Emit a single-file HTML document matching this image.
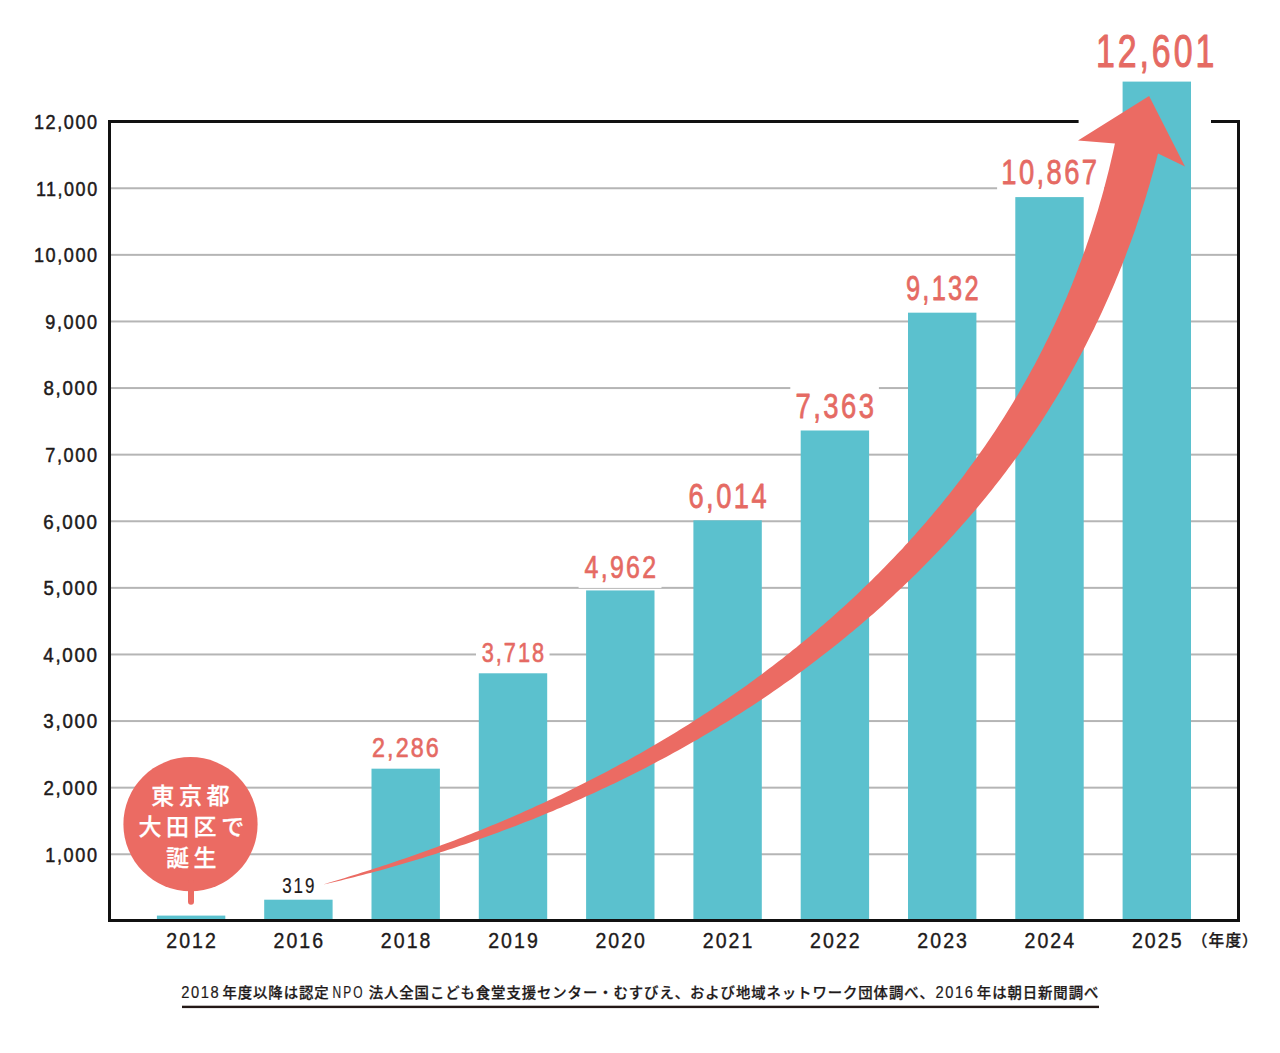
<!DOCTYPE html>
<html lang="ja"><head><meta charset="utf-8"><title>こども食堂の箇所数の推移</title>
<style>
html,body{margin:0;padding:0;background:#fff;}
body{width:1280px;height:1053px;overflow:hidden;}
svg{display:block;}
text{font-family:"Liberation Sans","Noto Sans CJK JP",sans-serif;}
text.j{font-family:"Noto Sans CJK JP","Liberation Sans",sans-serif;font-weight:500;}
</style></head><body>
<svg width="1280" height="1053" viewBox="0 0 1280 1053">
<rect width="1280" height="1053" fill="#fff"/>
<rect x="111" y="853.26" width="1126" height="2" fill="#b5b5b5"/>
<rect x="111" y="786.66" width="1126" height="2" fill="#b5b5b5"/>
<rect x="111" y="720.06" width="1126" height="2" fill="#b5b5b5"/>
<rect x="111" y="653.46" width="1126" height="2" fill="#b5b5b5"/>
<rect x="111" y="586.86" width="1126" height="2" fill="#b5b5b5"/>
<rect x="111" y="520.26" width="1126" height="2" fill="#b5b5b5"/>
<rect x="111" y="453.66" width="1126" height="2" fill="#b5b5b5"/>
<rect x="111" y="387.06" width="1126" height="2" fill="#b5b5b5"/>
<rect x="111" y="320.46" width="1126" height="2" fill="#b5b5b5"/>
<rect x="111" y="253.86" width="1126" height="2" fill="#b5b5b5"/>
<rect x="111" y="187.26" width="1126" height="2" fill="#b5b5b5"/>
<rect x="156.90" y="915.60" width="68.4" height="4.40" fill="#5bc1ce"/>
<rect x="264.20" y="899.70" width="68.4" height="20.30" fill="#5bc1ce"/>
<rect x="371.50" y="768.68" width="68.4" height="151.32" fill="#5bc1ce"/>
<rect x="478.80" y="673.29" width="68.4" height="246.71" fill="#5bc1ce"/>
<rect x="586.10" y="590.43" width="68.4" height="329.57" fill="#5bc1ce"/>
<rect x="693.40" y="520.36" width="68.4" height="399.64" fill="#5bc1ce"/>
<rect x="800.70" y="430.50" width="68.4" height="489.50" fill="#5bc1ce"/>
<rect x="908.00" y="312.67" width="68.4" height="607.33" fill="#5bc1ce"/>
<rect x="1015.30" y="197.10" width="68.4" height="722.90" fill="#5bc1ce"/>
<rect x="1122.60" y="81.60" width="68.4" height="838.40" fill="#5bc1ce"/>
<rect x="476" y="636" width="73.50" height="32" fill="#fff"/>
<rect x="578.6" y="550" width="82.90" height="37.89999999999998" fill="#fff"/>
<rect x="790.3" y="386" width="88.60" height="38" fill="#fff"/>
<rect x="997.1" y="153" width="106.90" height="38" fill="#fff"/>
<rect x="108" y="120" width="3" height="802" fill="#111"/>
<rect x="108" y="919" width="1132" height="3" fill="#111"/>
<rect x="1237" y="120" width="3" height="802" fill="#111"/>
<rect x="108" y="120" width="970.6" height="3" fill="#111"/>
<rect x="1211" y="120" width="29" height="3" fill="#111"/>
<path d="M323.5,884.4 L327.8,883.1 L332.0,881.8 L336.3,880.5 L340.6,879.2 L344.8,877.9 L349.1,876.6 L353.3,875.3 L357.6,874.0 L361.9,872.6 L366.1,871.3 L370.3,869.9 L374.6,868.6 L378.8,867.2 L383.0,865.8 L387.3,864.4 L391.5,863.0 L395.7,861.5 L399.9,860.1 L404.1,858.7 L408.4,857.2 L412.6,855.7 L416.8,854.3 L420.9,852.8 L425.1,851.3 L429.3,849.8 L433.5,848.2 L437.7,846.7 L441.8,845.1 L446.0,843.6 L450.2,842.0 L454.3,840.4 L458.5,838.8 L462.6,837.2 L466.8,835.6 L470.9,834.0 L475.0,832.3 L479.2,830.7 L483.3,829.0 L487.4,827.3 L491.5,825.6 L495.6,823.9 L499.7,822.2 L503.8,820.4 L507.9,818.7 L512.0,816.9 L516.0,815.2 L520.1,813.4 L524.2,811.6 L528.2,809.8 L532.3,808.0 L536.3,806.1 L540.4,804.3 L544.4,802.4 L548.4,800.6 L552.4,798.7 L556.5,796.8 L560.5,794.9 L564.5,792.9 L568.5,791.0 L572.4,789.0 L576.4,787.1 L580.4,785.1 L584.4,783.1 L588.3,781.1 L592.3,779.1 L596.2,777.1 L600.1,775.0 L604.1,773.0 L608.0,770.9 L611.9,768.8 L615.8,766.7 L619.7,764.6 L623.6,762.5 L627.5,760.4 L631.4,758.2 L635.2,756.1 L639.1,753.9 L643.0,751.7 L646.8,749.5 L650.6,747.3 L654.5,745.1 L658.3,742.8 L662.1,740.6 L665.9,738.3 L669.7,736.0 L673.5,733.7 L677.2,731.4 L681.0,729.1 L684.8,726.7 L688.5,724.4 L692.3,722.0 L696.0,719.6 L699.7,717.2 L703.4,714.8 L707.1,712.4 L710.8,710.0 L714.5,707.5 L718.2,705.1 L721.8,702.6 L725.5,700.1 L729.1,697.6 L732.8,695.1 L736.4,692.5 L740.0,690.0 L743.6,687.4 L747.2,684.9 L750.8,682.3 L754.3,679.7 L757.9,677.1 L761.5,674.4 L765.0,671.8 L768.5,669.1 L772.0,666.5 L775.5,663.8 L779.0,661.1 L782.5,658.4 L786.0,655.6 L789.4,652.9 L792.9,650.1 L796.3,647.4 L799.7,644.6 L803.2,641.8 L806.6,639.0 L809.9,636.2 L813.3,633.3 L816.7,630.5 L820.0,627.6 L823.4,624.7 L826.7,621.8 L830.0,618.9 L833.3,616.0 L836.6,613.1 L839.9,610.1 L843.1,607.2 L846.4,604.2 L849.6,601.2 L852.9,598.2 L856.1,595.2 L859.3,592.2 L862.4,589.1 L865.6,586.1 L868.8,583.0 L871.9,579.9 L875.0,576.8 L878.2,573.7 L881.3,570.6 L884.3,567.5 L887.4,564.3 L890.5,561.1 L893.5,558.0 L896.5,554.8 L899.6,551.6 L902.6,548.4 L905.5,545.1 L908.5,541.9 L911.5,538.6 L914.4,535.4 L917.3,532.1 L920.2,528.8 L923.1,525.5 L926.0,522.2 L928.8,518.8 L931.7,515.5 L934.5,512.1 L937.3,508.8 L940.1,505.4 L942.9,502.0 L945.6,498.6 L948.4,495.2 L951.1,491.7 L953.8,488.3 L956.5,484.8 L959.2,481.3 L961.9,477.9 L964.5,474.4 L967.1,470.8 L969.7,467.3 L972.3,463.8 L974.9,460.2 L977.4,456.7 L980.0,453.1 L982.5,449.5 L985.0,445.9 L987.5,442.3 L989.9,438.7 L992.4,435.1 L994.8,431.4 L997.2,427.8 L999.6,424.1 L1001.9,420.4 L1004.3,416.7 L1006.6,413.0 L1008.9,409.3 L1011.2,405.6 L1013.4,401.9 L1015.7,398.1 L1017.9,394.4 L1020.1,390.6 L1022.3,386.8 L1024.5,383.0 L1026.6,379.2 L1028.7,375.4 L1030.8,371.6 L1032.9,367.7 L1035.0,363.9 L1037.0,360.0 L1039.0,356.2 L1041.0,352.3 L1043.0,348.4 L1044.9,344.5 L1046.9,340.6 L1048.8,336.7 L1050.7,332.7 L1052.5,328.8 L1054.4,324.9 L1056.2,320.9 L1058.0,316.9 L1059.8,313.0 L1061.6,309.0 L1063.3,305.0 L1065.1,301.0 L1066.8,297.0 L1068.4,292.9 L1070.1,288.9 L1071.8,284.9 L1073.4,280.8 L1075.0,276.8 L1076.5,272.7 L1078.1,268.6 L1079.6,264.6 L1081.2,260.5 L1082.6,256.4 L1084.1,252.3 L1085.6,248.2 L1087.0,244.1 L1088.4,239.9 L1089.8,235.8 L1091.2,231.7 L1092.5,227.5 L1093.8,223.4 L1095.1,219.2 L1096.4,215.1 L1097.7,210.9 L1098.9,206.7 L1100.1,202.5 L1101.3,198.4 L1102.5,194.2 L1103.7,190.0 L1104.8,185.8 L1105.9,181.6 L1107.0,177.3 L1108.1,173.1 L1109.1,168.9 L1110.1,164.7 L1111.1,160.4 L1112.1,156.2 L1113.1,152.0 L1114.0,147.7 L1114.9,143.5 L1078.0,140.5 L1149.1,96.0 L1185.0,166.4 L1158.0,153.5 L1156.8,158.0 L1155.7,162.4 L1154.5,166.8 L1153.3,171.2 L1152.1,175.6 L1150.8,180.0 L1149.6,184.4 L1148.3,188.8 L1147.0,193.1 L1145.7,197.5 L1144.3,201.9 L1142.9,206.2 L1141.5,210.6 L1140.1,214.9 L1138.7,219.2 L1137.2,223.6 L1135.8,227.9 L1134.3,232.2 L1132.7,236.5 L1131.2,240.8 L1129.6,245.1 L1128.0,249.3 L1126.4,253.6 L1124.8,257.9 L1123.2,262.1 L1121.5,266.4 L1119.8,270.6 L1118.1,274.8 L1116.3,279.0 L1114.6,283.2 L1112.8,287.4 L1111.0,291.6 L1109.2,295.8 L1107.3,300.0 L1105.5,304.1 L1103.6,308.3 L1101.7,312.4 L1099.8,316.5 L1097.8,320.7 L1095.8,324.8 L1093.9,328.9 L1091.8,333.0 L1089.8,337.0 L1087.8,341.1 L1085.7,345.2 L1083.6,349.2 L1081.5,353.2 L1079.3,357.3 L1077.2,361.3 L1075.0,365.3 L1072.8,369.3 L1070.6,373.2 L1068.3,377.2 L1066.1,381.1 L1063.8,385.1 L1061.5,389.0 L1059.1,392.9 L1056.8,396.8 L1054.4,400.7 L1052.0,404.6 L1049.6,408.4 L1047.2,412.3 L1044.8,416.1 L1042.3,419.9 L1039.8,423.7 L1037.3,427.5 L1034.8,431.3 L1032.2,435.1 L1029.6,438.8 L1027.1,442.6 L1024.5,446.3 L1021.8,450.0 L1019.2,453.7 L1016.5,457.4 L1013.8,461.0 L1011.1,464.7 L1008.4,468.3 L1005.7,472.0 L1003.0,475.6 L1000.2,479.2 L997.4,482.7 L994.6,486.3 L991.8,489.9 L988.9,493.4 L986.1,496.9 L983.2,500.4 L980.3,503.9 L977.4,507.4 L974.5,510.9 L971.6,514.3 L968.6,517.7 L965.6,521.2 L962.6,524.6 L959.6,528.0 L956.6,531.3 L953.6,534.7 L950.5,538.0 L947.5,541.4 L944.4,544.7 L941.3,548.0 L938.2,551.3 L935.1,554.5 L931.9,557.8 L928.8,561.0 L925.6,564.3 L922.4,567.5 L919.2,570.7 L916.0,573.9 L912.8,577.0 L909.6,580.2 L906.3,583.3 L903.0,586.4 L899.8,589.5 L896.5,592.6 L893.2,595.7 L889.9,598.8 L886.5,601.8 L883.2,604.9 L879.8,607.9 L876.4,610.9 L873.1,613.9 L869.7,616.8 L866.3,619.8 L862.8,622.7 L859.4,625.7 L856.0,628.6 L852.5,631.5 L849.0,634.3 L845.5,637.2 L842.1,640.1 L838.5,642.9 L835.0,645.7 L831.5,648.5 L828.0,651.3 L824.4,654.1 L820.8,656.8 L817.3,659.6 L813.7,662.3 L810.1,665.0 L806.5,667.7 L802.9,670.4 L799.2,673.1 L795.6,675.7 L792.0,678.4 L788.3,681.0 L784.6,683.6 L780.9,686.2 L777.3,688.8 L773.6,691.3 L769.8,693.9 L766.1,696.4 L762.4,698.9 L758.6,701.4 L754.9,703.9 L751.1,706.4 L747.4,708.8 L743.6,711.3 L739.8,713.7 L736.0,716.1 L732.2,718.5 L728.4,720.9 L724.6,723.2 L720.7,725.6 L716.9,727.9 L713.0,730.2 L709.2,732.5 L705.3,734.8 L701.5,737.1 L697.6,739.4 L693.7,741.6 L689.8,743.8 L685.9,746.0 L682.0,748.2 L678.0,750.4 L674.1,752.6 L670.2,754.7 L666.2,756.9 L662.3,759.0 L658.3,761.1 L654.3,763.2 L650.4,765.3 L646.4,767.4 L642.4,769.4 L638.4,771.4 L634.4,773.5 L630.4,775.5 L626.4,777.5 L622.3,779.4 L618.3,781.4 L614.3,783.4 L610.2,785.3 L606.2,787.2 L602.1,789.1 L598.1,791.0 L594.0,792.9 L589.9,794.7 L585.8,796.6 L581.8,798.4 L577.7,800.3 L573.6,802.1 L569.5,803.9 L565.4,805.6 L561.2,807.4 L557.1,809.1 L553.0,810.9 L548.9,812.6 L544.7,814.3 L540.6,816.0 L536.4,817.7 L532.3,819.4 L528.1,821.0 L524.0,822.6 L519.8,824.3 L515.6,825.9 L511.4,827.5 L507.2,829.1 L503.1,830.6 L498.9,832.2 L494.7,833.7 L490.5,835.3 L486.3,836.8 L482.1,838.3 L477.8,839.8 L473.6,841.3 L469.4,842.7 L465.2,844.2 L460.9,845.6 L456.7,847.0 L452.5,848.4 L448.2,849.8 L444.0,851.2 L439.7,852.6 L435.5,853.9 L431.2,855.3 L426.9,856.6 L422.7,857.9 L418.4,859.2 L414.1,860.5 L409.8,861.8 L405.5,863.1 L401.3,864.3 L397.0,865.6 L392.7,866.8 L388.4,868.0 L384.1,869.2 L379.8,870.4 L375.5,871.5 L371.2,872.7 L366.8,873.8 L362.5,875.0 L358.2,876.1 L353.9,877.2 L349.6,878.3 L345.2,879.3 L340.9,880.4 L336.5,881.4 L332.2,882.5 L327.9,883.4 L323.5,884.4 Z" fill="#eb6b63"/>
<circle cx="190.5" cy="824.15" r="67.1" fill="#eb6b63"/>
<rect x="188" y="880" width="6" height="24.8" rx="3" fill="#eb6b63"/>
<text class="j" x="151.37 178.97 206.57" y="803.97" font-size="23.0" fill="#fff" stroke="#fff" stroke-width="0.25">東京都</text>
<text class="j" x="138.38 165.98 193.58 221.18" y="835.04" font-size="23.0" fill="#fff" stroke="#fff" stroke-width="0.25">大田区で</text>
<text class="j" x="165.89 193.49" y="866.25" font-size="23.0" fill="#fff" stroke="#fff" stroke-width="0.25">誕生</text>
<text transform="translate(282.16,892.69) scale(0.7973,1)" font-size="21.27" fill="#1e1a1a" stroke="#1e1a1a" stroke-width="0.20" stroke-linejoin="round" letter-spacing="2.52">319</text>
<text transform="translate(372.06,757.19) scale(0.8181,1)" font-size="28.49" fill="#e56a63" stroke="#e56a63" stroke-width="0.63" stroke-linejoin="round" letter-spacing="2.56">2,286</text>
<text transform="translate(481.80,661.50) scale(0.7786,1)" font-size="27.94" fill="#e56a63" stroke="#e56a63" stroke-width="0.61" stroke-linejoin="round" letter-spacing="2.53">3,718</text>
<text transform="translate(584.60,578.32) scale(0.7886,1)" font-size="31.63" fill="#e56a63" stroke="#e56a63" stroke-width="0.70" stroke-linejoin="round" letter-spacing="2.87">4,962</text>
<text transform="translate(688.44,507.55) scale(0.7727,1)" font-size="35.33" fill="#e56a63" stroke="#e56a63" stroke-width="0.78" stroke-linejoin="round" letter-spacing="3.20">6,014</text>
<text transform="translate(795.52,417.66) scale(0.7909,1)" font-size="34.65" fill="#e56a63" stroke="#e56a63" stroke-width="0.76" stroke-linejoin="round" letter-spacing="3.12">7,363</text>
<text transform="translate(905.89,300.14) scale(0.7169,1)" font-size="35.47" fill="#e56a63" stroke="#e56a63" stroke-width="0.78" stroke-linejoin="round" letter-spacing="3.19">9,132</text>
<text transform="translate(1001.25,184.35) scale(0.7796,1)" font-size="35.13" fill="#e56a63" stroke="#e56a63" stroke-width="0.77" stroke-linejoin="round" letter-spacing="3.08">10,867</text>
<text transform="translate(1095.88,67.22) scale(0.7405,1)" font-size="45.74" fill="#e56a63" stroke="#e56a63" stroke-width="1.01" stroke-linejoin="round" letter-spacing="4.01">12,601</text>
<text transform="translate(45.29,861.65) scale(0.8776,1)" font-size="20.64" fill="#1e1a1a" stroke="#1e1a1a" stroke-width="0.50" stroke-linejoin="round" letter-spacing="1.84">1,000</text>
<text transform="translate(43.41,795.05) scale(0.9086,1)" font-size="20.64" fill="#1e1a1a" stroke="#1e1a1a" stroke-width="0.50" stroke-linejoin="round" letter-spacing="1.86">2,000</text>
<text transform="translate(43.35,728.45) scale(0.9092,1)" font-size="20.64" fill="#1e1a1a" stroke="#1e1a1a" stroke-width="0.50" stroke-linejoin="round" letter-spacing="1.87">3,000</text>
<text transform="translate(43.23,661.85) scale(0.9105,1)" font-size="20.64" fill="#1e1a1a" stroke="#1e1a1a" stroke-width="0.50" stroke-linejoin="round" letter-spacing="1.88">4,000</text>
<text transform="translate(43.50,595.25) scale(0.9066,1)" font-size="20.64" fill="#1e1a1a" stroke="#1e1a1a" stroke-width="0.50" stroke-linejoin="round" letter-spacing="1.87">5,000</text>
<text transform="translate(43.31,528.65) scale(0.9104,1)" font-size="20.64" fill="#1e1a1a" stroke="#1e1a1a" stroke-width="0.50" stroke-linejoin="round" letter-spacing="1.86">6,000</text>
<text transform="translate(45.24,462.05) scale(0.8772,1)" font-size="20.64" fill="#1e1a1a" stroke="#1e1a1a" stroke-width="0.50" stroke-linejoin="round" letter-spacing="1.86">7,000</text>
<text transform="translate(43.45,395.45) scale(0.9076,1)" font-size="20.64" fill="#1e1a1a" stroke="#1e1a1a" stroke-width="0.50" stroke-linejoin="round" letter-spacing="1.87">8,000</text>
<text transform="translate(45.29,328.85) scale(0.8763,1)" font-size="20.64" fill="#1e1a1a" stroke="#1e1a1a" stroke-width="0.50" stroke-linejoin="round" letter-spacing="1.86">9,000</text>
<text transform="translate(33.90,262.25) scale(0.8754,1)" font-size="20.64" fill="#1e1a1a" stroke="#1e1a1a" stroke-width="0.50" stroke-linejoin="round" letter-spacing="1.82">10,000</text>
<text transform="translate(35.91,195.65) scale(0.8689,1)" font-size="20.64" fill="#1e1a1a" stroke="#1e1a1a" stroke-width="0.50" stroke-linejoin="round" letter-spacing="1.77">11,000</text>
<text transform="translate(34.00,129.05) scale(0.8740,1)" font-size="20.64" fill="#1e1a1a" stroke="#1e1a1a" stroke-width="0.50" stroke-linejoin="round" letter-spacing="1.82">12,000</text>
<text transform="translate(166.32,947.98) scale(0.8849,1)" font-size="22.05" fill="#1e1a1a" stroke="#1e1a1a" stroke-width="0.40" stroke-linejoin="round" letter-spacing="2.33">2012</text>
<text transform="translate(273.54,947.98) scale(0.8849,1)" font-size="22.05" fill="#1e1a1a" stroke="#1e1a1a" stroke-width="0.40" stroke-linejoin="round" letter-spacing="2.34">2016</text>
<text transform="translate(380.84,947.98) scale(0.8849,1)" font-size="22.05" fill="#1e1a1a" stroke="#1e1a1a" stroke-width="0.40" stroke-linejoin="round" letter-spacing="2.34">2018</text>
<text transform="translate(488.17,947.98) scale(0.8849,1)" font-size="22.05" fill="#1e1a1a" stroke="#1e1a1a" stroke-width="0.40" stroke-linejoin="round" letter-spacing="2.34">2019</text>
<text transform="translate(595.38,947.98) scale(0.8849,1)" font-size="22.05" fill="#1e1a1a" stroke="#1e1a1a" stroke-width="0.40" stroke-linejoin="round" letter-spacing="2.34">2020</text>
<text transform="translate(702.80,947.98) scale(0.8849,1)" font-size="22.05" fill="#1e1a1a" stroke="#1e1a1a" stroke-width="0.40" stroke-linejoin="round" letter-spacing="2.33">2021</text>
<text transform="translate(810.12,947.98) scale(0.8849,1)" font-size="22.05" fill="#1e1a1a" stroke="#1e1a1a" stroke-width="0.40" stroke-linejoin="round" letter-spacing="2.33">2022</text>
<text transform="translate(917.34,947.98) scale(0.8849,1)" font-size="22.05" fill="#1e1a1a" stroke="#1e1a1a" stroke-width="0.40" stroke-linejoin="round" letter-spacing="2.34">2023</text>
<text transform="translate(1024.47,947.98) scale(0.8849,1)" font-size="22.05" fill="#1e1a1a" stroke="#1e1a1a" stroke-width="0.40" stroke-linejoin="round" letter-spacing="2.36">2024</text>
<text transform="translate(1131.91,947.98) scale(0.8849,1)" font-size="22.05" fill="#1e1a1a" stroke="#1e1a1a" stroke-width="0.40" stroke-linejoin="round" letter-spacing="2.34">2025</text>
<text class="j" x="1191.81 1208.41 1225.48 1241.99" y="945.70" font-size="15.7" fill="#1e1a1a" stroke="#1e1a1a" stroke-width="0.25">（年度）</text>
<text transform="translate(181.26,998.48) scale(0.8706,1)" font-size="16.89" fill="#1e1a1a" stroke="#1e1a1a" stroke-width="0.20" stroke-linejoin="round" letter-spacing="1.79">2018</text>
<text class="j" x="222.47 237.77 253.07 268.37 283.67 298.97 314.27" y="997.50" font-size="14.4" fill="#1e1a1a" stroke="#1e1a1a" stroke-width="0.25">年度以降は認定</text>
<text transform="translate(332.41,998.48) scale(0.7089,1)" font-size="16.89" fill="#1e1a1a" stroke="#1e1a1a" stroke-width="0.20" stroke-linejoin="round" letter-spacing="3.04">NPO</text>
<text class="j" x="368.71 384.01 399.31 414.61 429.91 445.21 460.51 475.81 491.11 506.41 521.71 537.01 552.31 567.61 582.91 598.21 613.51 628.81 644.11 659.41 674.71 690.01 705.31 720.61 735.91 751.21 766.51 781.81 797.11 812.41 827.71 843.01 858.31 873.61 888.91 904.21 919.51" y="997.50" font-size="14.4" fill="#1e1a1a" stroke="#1e1a1a" stroke-width="0.25">法人全国こども食堂支援センター・むすびえ、および地域ネットワーク団体調べ、</text>
<text transform="translate(935.62,998.48) scale(0.8669,1)" font-size="16.89" fill="#1e1a1a" stroke="#1e1a1a" stroke-width="0.20" stroke-linejoin="round" letter-spacing="1.79">2016</text>
<text class="j" x="976.87 992.17 1007.47 1022.77 1038.07 1053.37 1068.67 1083.97" y="997.50" font-size="14.4" fill="#1e1a1a" stroke="#1e1a1a" stroke-width="0.25">年は朝日新聞調べ</text>
<rect x="182" y="1005.7" width="917" height="2.4" fill="#231816"/>
</svg>
</body></html>
